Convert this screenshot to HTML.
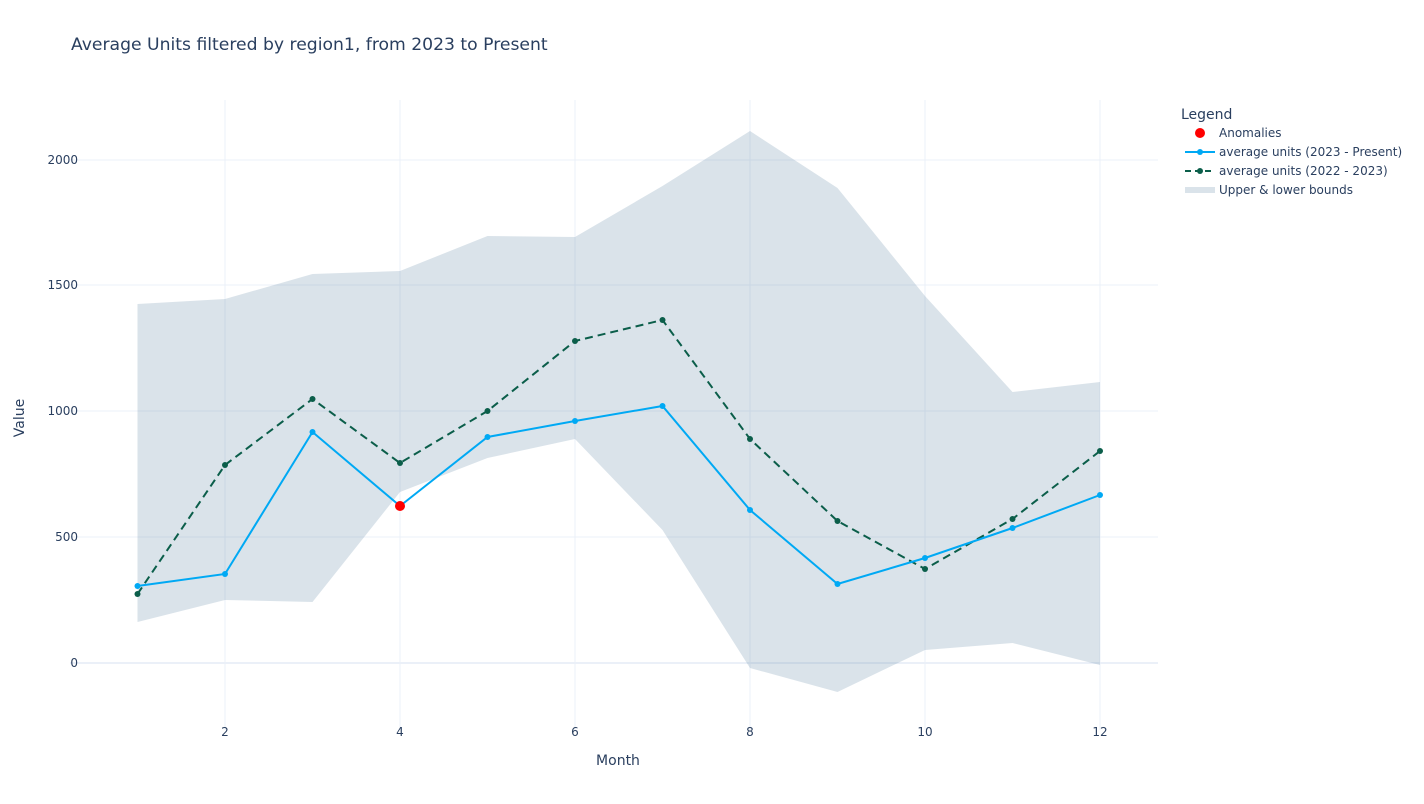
<!DOCTYPE html>
<html><head><meta charset="utf-8"><style>
body{margin:0;background:#fff;}
svg{display:block;font-family:"DejaVu Sans","Liberation Sans",sans-serif;}
</style></head><body>
<svg width="1424" height="804" viewBox="0 0 1424 804">
<rect width="1424" height="804" fill="#fff"/>
<g stroke="#ebf0f8" stroke-width="1">
<line x1="225" y1="100" x2="225" y2="730"/><line x1="400" y1="100" x2="400" y2="730"/>
<line x1="575" y1="100" x2="575" y2="730"/><line x1="750" y1="100" x2="750" y2="730"/>
<line x1="925" y1="100" x2="925" y2="730"/><line x1="1100" y1="100" x2="1100" y2="730"/>
<line x1="70" y1="537" x2="1158" y2="537"/><line x1="70" y1="411" x2="1158" y2="411"/>
<line x1="70" y1="285" x2="1158" y2="285"/><line x1="70" y1="160" x2="1158" y2="160"/>
</g>
<line x1="70" y1="663" x2="1158" y2="663" stroke="#ebf0f8" stroke-width="2"/>
<polygon fill="rgba(68,114,150,0.2)" points="137.5,304 225,299 312.5,274 400,271 487.5,236 575,237 662.5,186 750,131 837.5,188 925,296 1012.5,392 1100,382 1100,665 1012.5,643 925,650 837.5,692 750,668 662.5,530 575,439 487.5,458 400,492 312.5,602 225,600 137.5,622"/>
<polyline fill="none" stroke="#0b5e4a" stroke-width="2" stroke-dasharray="8,5" points="137.5,594 225,465 312.5,399 400,463 487.5,411 575,341 662.5,320 750,439 837.5,521 925,569 1012.5,519 1100,451"/>
<g fill="#0b5e4a">
<circle cx="137.5" cy="594" r="3"/><circle cx="225" cy="465" r="3"/><circle cx="312.5" cy="399" r="3"/><circle cx="400" cy="463" r="3"/><circle cx="487.5" cy="411" r="3"/><circle cx="575" cy="341" r="3"/><circle cx="662.5" cy="320" r="3"/><circle cx="750" cy="439" r="3"/><circle cx="837.5" cy="521" r="3"/><circle cx="925" cy="569" r="3"/><circle cx="1012.5" cy="519" r="3"/><circle cx="1100" cy="451" r="3"/>
</g>
<polyline fill="none" stroke="#00a9f4" stroke-width="2" points="137.5,586 225,574 312.5,432 400,506 487.5,437 575,421 662.5,406 750,510 837.5,584 925,558 1012.5,528 1100,495"/>
<g fill="#00a9f4">
<circle cx="137.5" cy="586" r="3"/><circle cx="225" cy="574" r="3"/><circle cx="312.5" cy="432" r="3"/><circle cx="487.5" cy="437" r="3"/><circle cx="575" cy="421" r="3"/><circle cx="662.5" cy="406" r="3"/><circle cx="750" cy="510" r="3"/><circle cx="837.5" cy="584" r="3"/><circle cx="925" cy="558" r="3"/><circle cx="1012.5" cy="528" r="3"/><circle cx="1100" cy="495" r="3"/>
</g>
<circle cx="400" cy="506" r="5" fill="#ff0000"/>
<g fill="#2a3f5f" font-size="12" text-anchor="middle">
<text x="225" y="736">2</text><text x="400" y="736">4</text><text x="575" y="736">6</text>
<text x="750" y="736">8</text><text x="925" y="736">10</text><text x="1100" y="736">12</text>
</g>
<g fill="#2a3f5f" font-size="12" text-anchor="end">
<text x="78" y="667">0</text><text x="78" y="541">500</text><text x="78" y="415">1000</text>
<text x="78" y="289">1500</text><text x="78" y="164">2000</text>
</g>
<text x="618" y="765" fill="#2a3f5f" font-size="14" text-anchor="middle">Month</text>
<text x="24" y="418" fill="#2a3f5f" font-size="14" text-anchor="middle" transform="rotate(-90 24 418)">Value</text>
<text x="71" y="50" fill="#2a3f5f" font-size="17.2">Average Units filtered by region1, from 2023 to Present</text>
<g fill="#2a3f5f" font-size="12">
<text x="1181" y="119" font-size="14">Legend</text>
<circle cx="1200" cy="133" r="5" fill="#ff0000"/>
<text x="1219" y="137">Anomalies</text>
<line x1="1185" y1="152" x2="1215" y2="152" stroke="#00a9f4" stroke-width="2"/>
<circle cx="1200" cy="152" r="3" fill="#00a9f4"/>
<text x="1219" y="156">average units (2023 - Present)</text>
<line x1="1185" y1="171" x2="1215" y2="171" stroke="#0b5e4a" stroke-width="2" stroke-dasharray="6,4"/>
<circle cx="1200" cy="171" r="3" fill="#0b5e4a"/>
<text x="1219" y="175">average units (2022 - 2023)</text>
<rect x="1185" y="187" width="30" height="6" fill="rgba(68,114,150,0.2)"/>
<text x="1219" y="194">Upper &amp; lower bounds</text>
</g>
</svg>
</body></html>
